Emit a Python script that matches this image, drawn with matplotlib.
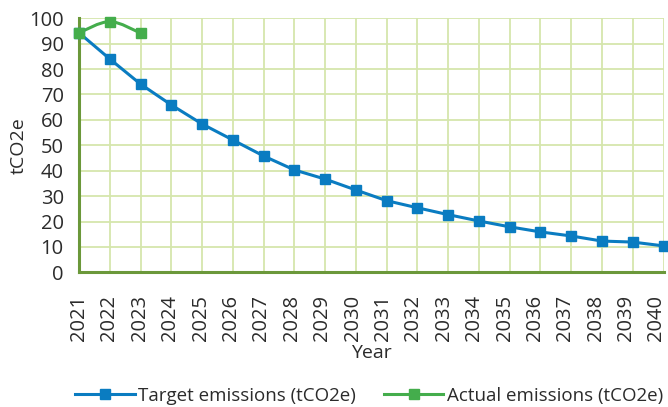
import numpy as np
import matplotlib
matplotlib.use("Agg")
import matplotlib.pyplot as plt
from matplotlib.path import Path
import matplotlib.patches as patches
import matplotlib.transforms as mtransforms

years = list(range(2021, 2041))
target = [94.3, 84.0, 74.1, 65.9, 58.4, 52.1, 45.8, 40.3, 36.7, 32.4,
          28.2, 25.4, 22.7, 20.2, 17.9, 15.9, 14.3, 12.3, 11.9, 10.4]
actual_years = [2021, 2022, 2023]
actual = [94.3, 98.7, 94.2]

blue = '#0a7cc1'
green = '#44ad4c'
text_col = '#2b2b2b'

plt.rcParams['font.family'] = ['Open Sans', 'DejaVu Sans']

fig = plt.figure(figsize=(6.68, 4.07), dpi=100)
ax = fig.add_axes([79 / 668, 1 - 272.3 / 407, (663.5 - 79) / 668, (272.3 - 18.3) / 407])

# target line, straight segments
ax.plot(years, target, color=blue, lw=2.2, marker='s', ms=7.5,
        label='Target emissions (tCO2e)', clip_on=False, zorder=4)


# smoothed line through the actual points (bezier, like a spreadsheet "smooth line")
def smooth_path(xs, ys, t=1 / 6):
    pts = np.column_stack([xs, ys])
    verts = [pts[0]]
    codes = [Path.MOVETO]
    n = len(pts)
    for i in range(n - 1):
        p0 = pts[i - 1] if i > 0 else pts[i]
        p1, p2 = pts[i], pts[i + 1]
        p3 = pts[i + 2] if i + 2 < n else pts[i + 1]
        c1 = p1 + (p2 - p0) * t
        c2 = p2 - (p3 - p1) * t
        verts += [c1, c2, p2]
        codes += [Path.CURVE4] * 3
    return Path(verts, codes)


ax.add_patch(patches.PathPatch(smooth_path(actual_years, actual), fill=False,
                               edgecolor=green, lw=2.2, zorder=3, clip_on=False))
ax.plot(actual_years, actual, color=green, lw=0, marker='s', ms=7.5,
        clip_on=False, zorder=5)
# legend handle for the actual series
ax.plot([], [], color=green, lw=2.2, marker='s', ms=7.5, label='Actual emissions (tCO2e)')

ax.set_xlim(2021, 2040)
ax.set_ylim(0, 100)
ax.set_xticks(years)
ax.set_xticklabels([str(y) for y in years], rotation=90)
ax.set_yticks(range(0, 101, 10))
ax.grid(True, color='#d5e6ad', lw=1.3)
ax.set_axisbelow(True)

for s in ['top', 'right']:
    ax.spines[s].set_visible(False)
for s in ['left', 'bottom']:
    ax.spines[s].set_color('#6b983a')
    ax.spines[s].set_linewidth(2.2)

ax.tick_params(axis='both', length=0, labelsize=14.5, colors=text_col)
ax.tick_params(axis='x', pad=16)
ax.tick_params(axis='y', pad=11)

# the year labels drift a little to the left along the axis, as in the original
labels = ax.get_xticklabels()
for i, lab in enumerate(labels):
    dx = -7.0 * i / (len(labels) - 1) / 100
    lab.set_transform(lab.get_transform() + mtransforms.ScaledTranslation(dx, 0, fig.dpi_scale_trans))

ax.set_xlabel('Year', fontsize=14, color=text_col, labelpad=2)
ax.set_ylabel('tCO2e', fontsize=14, color=text_col, labelpad=1)

fig.legend(loc='center', bbox_to_anchor=(0.553, 0.027), ncol=2, frameon=False,
           fontsize=13.5, handlelength=3.15, columnspacing=1.5, handletextpad=0.2,
           labelcolor=text_col)

fig.savefig('out.png', dpi=100)
